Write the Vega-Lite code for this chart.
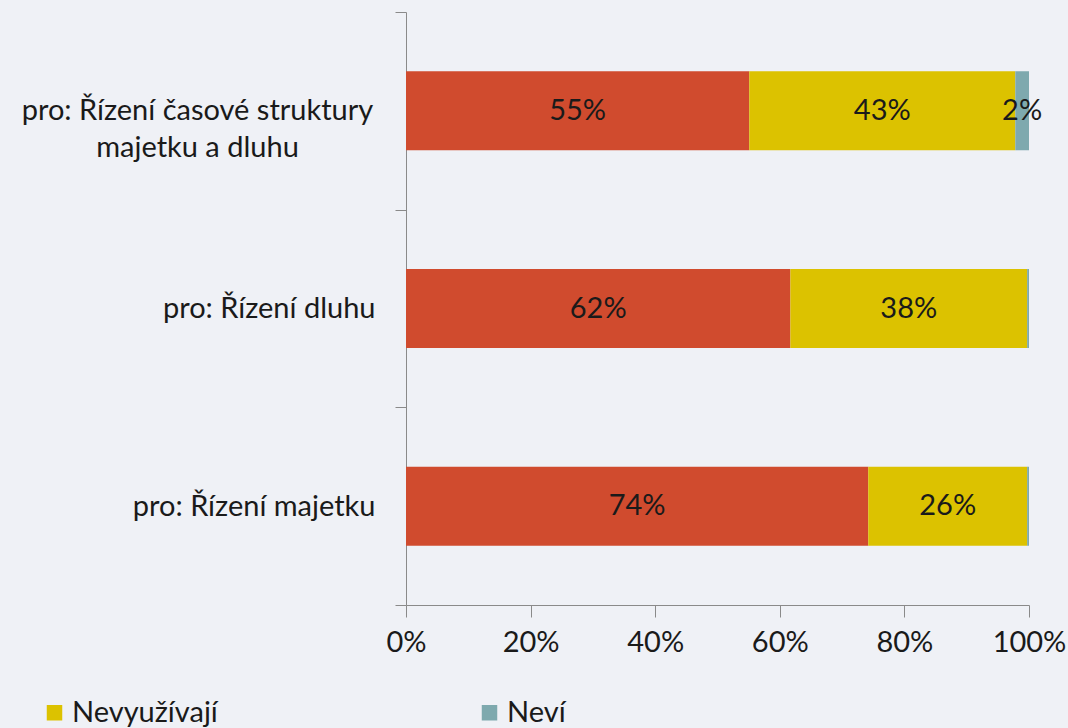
{
  "$schema": "https://vega.github.io/schema/vega-lite/v6.json",
  "width": 623,
  "height": 593,
  "autosize": "none",
  "padding": {"left": 406, "top": 12, "right": 39, "bottom": 123},
  "background": "#eff1f6",
  "config": {"view": {"stroke": null}, "font": "Lato"},
  "data": {
    "values": [
      {"kategorie": "pro: Řízení časové struktury majetku a dluhu", "odpoved": "Využívají", "poradi": 1, "podil": 0.551},
      {"kategorie": "pro: Řízení časové struktury majetku a dluhu", "odpoved": "Nevyužívají", "poradi": 2, "podil": 0.427},
      {"kategorie": "pro: Řízení časové struktury majetku a dluhu", "odpoved": "Neví", "poradi": 3, "podil": 0.022},
      {"kategorie": "pro: Řízení dluhu", "odpoved": "Využívají", "poradi": 1, "podil": 0.617},
      {"kategorie": "pro: Řízení dluhu", "odpoved": "Nevyužívají", "poradi": 2, "podil": 0.38},
      {"kategorie": "pro: Řízení dluhu", "odpoved": "Neví", "poradi": 3, "podil": 0.003},
      {"kategorie": "pro: Řízení majetku", "odpoved": "Využívají", "poradi": 1, "podil": 0.742},
      {"kategorie": "pro: Řízení majetku", "odpoved": "Nevyužívají", "poradi": 2, "podil": 0.255},
      {"kategorie": "pro: Řízení majetku", "odpoved": "Neví", "poradi": 3, "podil": 0.003}
    ]
  },
  "encoding": {
    "y": {
      "field": "kategorie",
      "type": "nominal",
      "sort": null,
      "scale": {"paddingInner": 0, "paddingOuter": 0},
      "axis": {
        "title": null,
        "tickBand": "extent",
        "tickSize": 11,
        "tickColor": "#8a8a8a",
        "domainColor": "#8a8a8a",
        "labelFontSize": 29,
        "labelColor": "#1a1a1a",
        "labelLineHeight": 37,
        "labelLimit": 420,
        "labelPadding": {"condition": {"test": "datum.value == 'pro: Řízení časové struktury majetku a dluhu'", "value": 198}, "value": 20},
        "labelAlign": {"condition": {"test": "datum.value == 'pro: Řízení časové struktury majetku a dluhu'", "value": "center"}, "value": "right"},
        "labelExpr": "datum.value == 'pro: Řízení časové struktury majetku a dluhu' ? ['pro: Řízení časové struktury', 'majetku a dluhu'] : datum.value"
      }
    }
  },
  "layer": [
    {
      "mark": {"type": "bar", "height": {"band": 0.4}},
      "encoding": {
        "x": {
          "field": "podil",
          "type": "quantitative",
          "stack": "zero",
          "scale": {"domain": [0, 1], "nice": false},
          "axis": {
            "title": null,
            "format": ".0%",
            "values": [0, 0.2, 0.4, 0.6, 0.8, 1],
            "grid": false,
            "labelFlush": false,
            "tickSize": 12,
            "tickColor": "#8a8a8a",
            "domainColor": "#8a8a8a",
            "labelFontSize": 29,
            "labelColor": "#1a1a1a",
            "labelPadding": 11
          }
        },
        "order": {"field": "poradi"},
        "color": {
          "field": "odpoved",
          "type": "nominal",
          "scale": {"domain": ["Využívají", "Nevyužívají", "Neví"], "range": ["#d04b2e", "#dcc200", "#7ea9ae"]},
          "legend": {
            "title": null,
            "orient": "none",
            "direction": "horizontal",
            "legendX": -366,
            "legendY": 686,
            "values": ["Nevyužívají", "Neví"],
            "symbolType": "square",
            "symbolSize": 240,
            "symbolStrokeWidth": 0,
            "symbolOpacity": 1,
            "labelFontSize": 29,
            "labelColor": "#1a1a1a",
            "columnPadding": 257,
            "labelOffset": 3
          }
        }
      }
    },
    {
      "transform": [{"filter": "datum.podil >= 0.01"}],
      "mark": {"type": "text", "fontSize": 29, "color": "#1a1a1a", "baseline": "middle", "align": "center"},
      "encoding": {
        "x": {"field": "podil", "type": "quantitative", "stack": "zero", "bandPosition": 0.5},
        "order": {"field": "poradi"},
        "detail": {"field": "odpoved"},
        "text": {"field": "podil", "type": "quantitative", "format": ".0%"}
      }
    }
  ]
}
